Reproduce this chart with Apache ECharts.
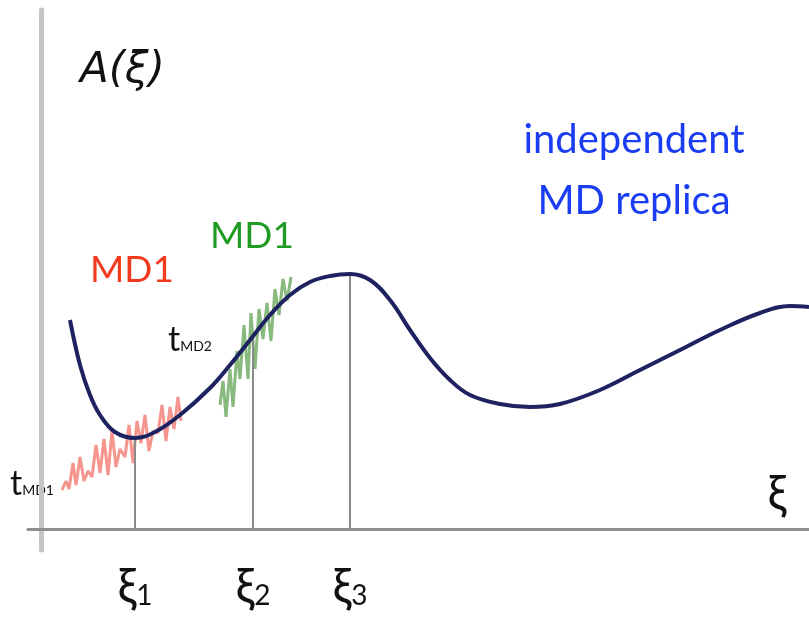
<!DOCTYPE html>
<html><head><meta charset="utf-8">
<script src="https://cdn.jsdelivr.net/npm/echarts@6/dist/echarts.min.js"></script>
<style>html,body{margin:0;padding:0;background:#fff}#c{width:809px;height:619px}</style>
</head><body><div id="c"></div>
<script>
// free-energy curve A(xi)
const curveX = [29,39,49,59,74,94,114,139,169,189,209,229,249,269,289,309,329,349,369,389,409,429,459,489,519,559,599,639,679,719,749,768];
const curveY = [209,164,134,114,97,91,97,114,141,164,189,214,234,247,253,255,249,229,199,171,149,134,125,122,125,139,159,179,199,216,223,222];
// noisy MD trajectories
const md1X = [21,25,28,32,35,39,43,47,51,55,59,63,67,71,75,79,84,88,92,96,100,104,108,112,117,121,125,129,133,137,140];
const md1Y = [39,48,40,66,44,72,48,58,52,84,56,90,54,98,62,80,72,104,66,108,86,114,78,98,96,124,88,122,100,132,108];
const md2X = [179,182,185,189,192,196,199,203,207,210,214,218,222,226,230,234,238,242,246,250];
const md2Y = [124,148,112,160,122,178,150,204,150,216,160,220,190,226,188,240,214,250,228,252];
// xi markers
const xiPos = [94,212,309];
const xiTop = [91,193,255];
const xiNames = ['1','2','3'];

const chart = echarts.init(document.getElementById('c'));
const font = 'Lato, "DejaVu Sans", sans-serif';
const pair = (xs, ys) => xs.map((x, i) => [x, ys[i]]);
chart.setOption({
  animation: false,
  grid: {left: 28, right: 0, top: 10, bottom: 69, outerBoundsMode: 'none', containLabel: false},
  xAxis: {
    type: 'value', min: -13, max: 768,
    axisLine: {onZero: true, lineStyle: {color: '#8e8e8e', width: 3}},
    axisTick: {show: false}, splitLine: {show: false},
    axisLabel: {
      customValues: xiPos, margin: 14,
      formatter: v => '{a|ξ}{b|' + xiNames[xiPos.indexOf(v)] + '}',
      rich: {a: {fontSize: 48, lineHeight: 48, color: '#111', fontFamily: font, verticalAlign: 'top'},
             b: {fontSize: 28, lineHeight: 48, color: '#111', fontFamily: font, verticalAlign: 'top', padding: [18, 0, 0, 0]}}
    }
  },
  yAxis: {
    type: 'value', min: -21, max: 519,
    axisLine: {onZero: true, lineStyle: {color: '#c4c4c4', width: 5}},
    axisTick: {show: false}, splitLine: {show: false}, axisLabel: {show: false}
  },
  series: [
    {type: 'line', data: pair(md1X, md1Y), symbol: 'none', z: 2,
     lineStyle: {color: '#f27a72', width: 3, opacity: 0.8}},
    {type: 'line', data: pair(md2X, md2Y), symbol: 'none', z: 2,
     lineStyle: {color: '#6aa85c', width: 3, opacity: 0.8}},
    {type: 'line', data: pair(curveX, curveY), symbol: 'none', smooth: 0.4, z: 5, clip: false,
     lineStyle: {color: '#1e2260', width: 4},
     markLine: {symbol: 'none', silent: true, label: {show: false},
       lineStyle: {color: '#8a8a8a', width: 2, type: 'solid'},
       data: xiPos.map((x, i) => [{coord: [x, 0]}, {coord: [x, xiTop[i]]}])}
    }
  ],
  graphic: [
    {type: 'text', left: 80, top: 50, style: {text: 'A(ξ)', font: 'italic 42px "DejaVu Sans", sans-serif', fill: '#111'}},
    {type: 'text', x: 634, y: 140, style: {text: 'independent', font: '40px ' + font, fill: '#1a3cf2', align: 'center', verticalAlign: 'middle'}},
    {type: 'text', x: 634, y: 201, style: {text: 'MD replica', font: '40px ' + font, fill: '#1a3cf2', align: 'center', verticalAlign: 'middle'}},
    {type: 'text', x: 90, y: 270, style: {text: 'MD1', font: '37px ' + font, fill: '#f23a1e', verticalAlign: 'middle'}},
    {type: 'text', x: 210, y: 236, style: {text: 'MD1', font: '37px ' + font, fill: '#1f9a22', verticalAlign: 'middle'}},
    {type: 'text', x: 10, y: 484, style: {text: '{t|t}{s|MD1}', verticalAlign: 'middle',
      rich: {t: {fontSize: 34, fill: '#111', fontFamily: font}, s: {fontSize: 14, fill: '#111', fontFamily: font, padding: [12, 0, 0, 0]}}}},
    {type: 'text', x: 168, y: 340, style: {text: '{t|t}{s|MD2}', verticalAlign: 'middle',
      rich: {t: {fontSize: 34, fill: '#111', fontFamily: font}, s: {fontSize: 14, fill: '#111', fontFamily: font, padding: [12, 0, 0, 0]}}}},
    {type: 'text', x: 777, y: 495, style: {text: 'ξ', font: '48px ' + font, fill: '#111', align: 'center', verticalAlign: 'middle'}}
  ]
});
</script></body></html>
